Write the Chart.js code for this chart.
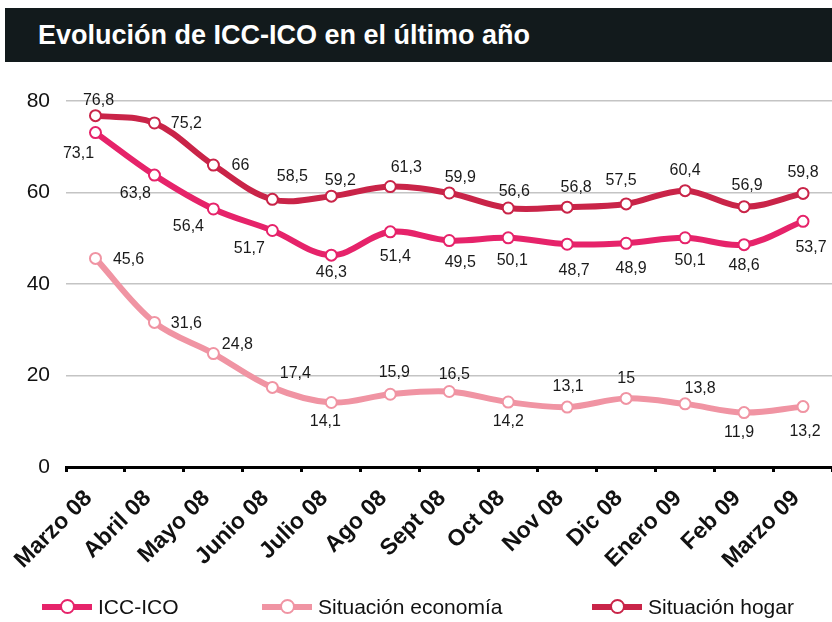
<!DOCTYPE html>
<html lang="es">
<head>
<meta charset="utf-8">
<title>Evolución de ICC-ICO en el último año</title>
<script src="https://cdn.jsdelivr.net/npm/chart.js@4.4.1/dist/chart.umd.min.js"></script>
<style>
  html, body { margin: 0; padding: 0; background: #fff; overflow: hidden; }
  body { width: 832px; height: 622px; position: relative; font-family: "Liberation Sans", Arial, sans-serif; }
  #title {
    position: absolute; left: 5px; top: 8px; width: 827px; height: 54px; z-index: 2;
    background: #121a1c; color: #fff; font-weight: bold; font-size: 27px;
    line-height: 54px; padding-left: 33px; box-sizing: border-box;
  }
  #wrap { position: absolute; left: 0; top: 0; width: 840px; height: 622px; }
  #legend { position: absolute; left: 0; top: 594px; width: 832px; height: 26px; font-size: 21px; color: #111; }
  .item { position: absolute; top: 0; height: 26px; display: flex; align-items: center; }
  .swatch { position: relative; width: 50px; height: 6px; margin-right: 6px; }
  .swatch i {
    position: absolute; left: 18px; top: -5px; width: 15px; height: 15px;
    border-radius: 50%; background: #fff; border: 2px solid; box-sizing: border-box;
  }
</style>
</head>
<body>
<div id="title">Evolución de ICC-ICO en el último año</div>
<div id="wrap"><canvas id="chart" width="840" height="622"></canvas></div>
<div id="legend"></div>

<script>
// ---------- data ----------
const MONTHS = ["Marzo 08", "Abril 08", "Mayo 08", "Junio 08", "Julio 08", "Ago 08",
                "Sept 08", "Oct 08", "Nov 08", "Dic 08", "Enero 09", "Feb 09", "Marzo 09"];

const ICC_ICO   = [73.1, 63.8, 56.4, 51.7, 46.3, 51.4, 49.5, 50.1, 48.7, 48.9, 50.1, 48.6, 53.7];
const ECONOMIA  = [45.6, 31.6, 24.8, 17.4, 14.1, 15.9, 16.5, 14.2, 13.1, 15, 13.8, 11.9, 13.2];
const HOGAR     = [76.8, 75.2, 66, 58.5, 59.2, 61.3, 59.9, 56.6, 56.8, 57.5, 60.4, 56.9, 59.8];

const Y_TICKS = [0, 20, 40, 60, 80];

// ---------- styling ----------
const COLORS = { icc: "#e6236a", eco: "#f094a3", hogar: "#c92448" };

// where each value label sits relative to its marker (px)
const LABEL_OFFSETS = {
  icc:   [[-17,21],[-19,18],[-25,18],[-23,18],[0,17],[5,25],[11,22],[4,23],[7,26],[5,25],[5,23],[0,21],[8,26]],
  eco:   [[33,1],[32,1],[24,-9],[23,-14],[-6,19],[4,-22],[5,-17],[0,20],[1,-20],[0,-20],[15,-15],[-5,20],[2,25]],
  hogar: [[3,-15],[32,1],[27,1],[20,-23],[9,-16],[16,-19],[11,-15],[6,-16],[9,-20],[-5,-23],[0,-20],[3,-21],[0,-21]],
};

const FONT = '"Liberation Sans", Arial, sans-serif';
const fmt = (v) => String(v).replace(".", ",");
const toPoints = (arr) => arr.map((y, i) => ({ x: i, y }));

function series(key, label, values) {
  return {
    key, label,
    data: toPoints(values),
    xAxisID: "xl",
    borderColor: COLORS[key],
    backgroundColor: "#fff",
    borderWidth: 6,
    tension: 0.35,
    pointRadius: 5.5,
    pointHoverRadius: 5.5,
    pointBorderWidth: 2,
    pointBackgroundColor: "#fff",
    pointBorderColor: COLORS[key],
  };
}

const valueLabels = {
  id: "valueLabels",
  afterDatasetsDraw(chart) {
    const ctx = chart.ctx;
    ctx.save();
    ctx.font = "16px " + FONT;
    ctx.fillStyle = "#1a1a1a";
    ctx.textAlign = "center";
    ctx.textBaseline = "middle";
    chart.data.datasets.forEach((ds, di) => {
      const meta = chart.getDatasetMeta(di);
      const offs = LABEL_OFFSETS[ds.key];
      meta.data.forEach((pt, i) => {
        const [dx, dy] = offs[i];
        ctx.fillText(fmt(ds.data[i].y), pt.x + dx, pt.y + dy);
      });
    });
    ctx.restore();
  }
};

new Chart(document.getElementById("chart").getContext("2d"), {
  type: "line",
  data: {
    labels: MONTHS,
    datasets: [
      series("icc", "ICC-ICO", ICC_ICO),
      series("eco", "Situación economía", ECONOMIA),
      series("hogar", "Situación hogar", HOGAR),
    ]
  },
  options: {
    responsive: false,
    animation: false,
    layout: { padding: { top: 101, right: 0, bottom: 0, left: 0 } },
    plugins: { legend: { display: false }, tooltip: { enabled: false } },
    scales: {
      x: {
        type: "category",
        offset: true,
        afterFit: (s) => { s.height = 155; },
        border: { display: true, color: "#000", width: 3 },
        grid: { offset: true, drawOnChartArea: false, drawTicks: true, tickLength: 5, tickWidth: 3, tickColor: "#000" },
        ticks: {
          autoSkip: false, minRotation: 45, maxRotation: 45, padding: 13, labelOffset: -7,
          color: "#111", font: { family: FONT, size: 23, weight: "bold" }
        }
      },
      xl: { type: "linear", display: false, min: -0.5, max: 12.5 },
      y: {
        min: 0, max: 80,
        afterFit: (s) => { s.width = 66; },
        afterBuildTicks: (s) => { s.ticks = Y_TICKS.map(v => ({ value: v })); },
        border: { display: false },
        grid: { color: "#c4c4c4", lineWidth: 1.5, drawTicks: false },
        ticks: { padding: 16, color: "#111", font: { family: FONT, size: 21 } }
      }
    }
  },
  plugins: [valueLabels]
});

// ---------- legend ----------
const LEGEND = [
  { key: "icc",   label: "ICC-ICO",            left: 42 },
  { key: "eco",   label: "Situación economía", left: 262 },
  { key: "hogar", label: "Situación hogar",    left: 592 },
];
const legendEl = document.getElementById("legend");
LEGEND.forEach(it => {
  const d = document.createElement("div");
  d.className = "item";
  d.style.left = it.left + "px";
  d.innerHTML = `<span class="swatch" style="background:${COLORS[it.key]}"><i style="border-color:${COLORS[it.key]}"></i></span><span>${it.label}</span>`;
  legendEl.appendChild(d);
});
</script>
</body>
</html>
